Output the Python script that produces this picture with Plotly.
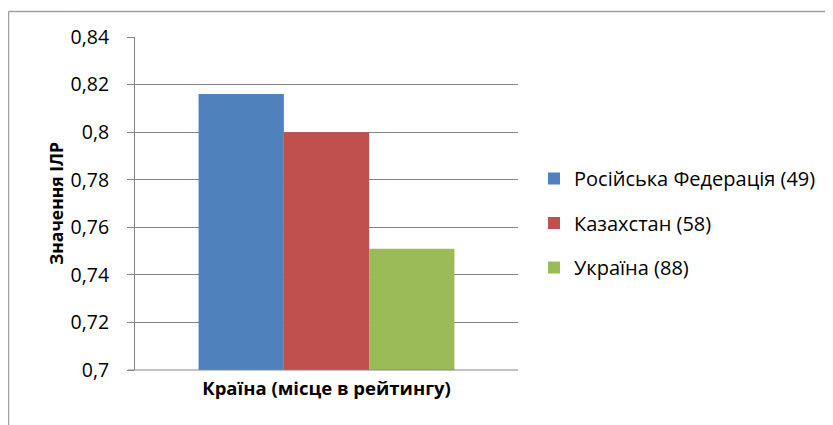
import plotly.graph_objects as go

categories = ["<b>Країна (місце в рейтингу)</b>"]
series_names = ["Російська Федерація (49)", "Казахстан (58)", "Україна (88)"]
series_values = [0.816, 0.800, 0.751]
series_colors = ["#4F81BD", "#C0504D", "#9BBB59"]
tick_values = [0.70, 0.72, 0.74, 0.76, 0.78, 0.80, 0.82, 0.84]
tick_labels = ["0,7", "0,72", "0,74", "0,76", "0,78", "0,8", "0,82", "0,84"]

# page is offset by 8px body margin: work in page(screen) coords, convert
OFF = 8
W, H = 833, 425
L, R, T, B = 135 - OFF, W - (518 - OFF), 37 - OFF, H - (370 - OFF)
pw, ph = W - L - R, H - T - B

fig = go.Figure()
for name, val, col in zip(series_names, series_values, series_colors):
    fig.add_trace(go.Bar(x=categories, y=[val], name=name, marker=dict(color=col, line=dict(width=0)),
                         legendgroup=name))

font_family = "Open Sans, Liberation Sans, Arial, sans-serif"
grid = "#868686"

def px_x(p):
    return (p - OFF - L) / pw

def px_y(p):
    return (H - B - (p - OFF)) / ph

fig.update_layout(
    width=W, height=H, autosize=False,
    margin=dict(l=L, r=R, t=T, b=B),
    paper_bgcolor="white", plot_bgcolor="white",
    barmode="group", bargap=0.332, bargroupgap=0,
    font=dict(family=font_family, color="#000000"),
    showlegend=True,
    legend=dict(x=px_x(534), y=px_y(159), xanchor="left", yanchor="top",
                font=dict(size=20, family=font_family), tracegroupgap=15.5,
                itemwidth=30, bgcolor="rgba(0,0,0,0)"),
    xaxis=dict(showgrid=False, showline=False, ticks="", tickfont=dict(size=18.5, family=font_family),
               ticklabelstandoff=5),
    yaxis=dict(range=[0.70, 0.84], tickvals=tick_values, ticktext=tick_labels,
               tickfont=dict(size=19.5, family=font_family), showgrid=True, gridcolor=grid, gridwidth=1,
               showline=True, linecolor=grid, linewidth=1, ticks="outside", ticklen=7, tickcolor=grid,
               zeroline=False, ticklabelstandoff=14,
               title=dict(text="<b>Значення ІЛР</b>", font=dict(size=17.5, family=font_family), standoff=2)),
    shapes=[
        dict(type="line", xref="paper", yref="paper", x0=px_x(8.5), x1=px_x(8.5), y0=px_y(11.5), y1=px_y(440),
             line=dict(color="#A0A0A0", width=1.5)),
        dict(type="line", xref="paper", yref="paper", x0=px_x(8.5), x1=px_x(850), y0=px_y(11.5), y1=px_y(11.5),
             line=dict(color="#A0A0A0", width=1.5)),
        dict(type="line", xref="paper", yref="paper", x0=px_x(128), x1=px_x(518), y0=0, y1=0,
             line=dict(color=grid, width=1)),
    ],
)

fig.write_html("out.html")
